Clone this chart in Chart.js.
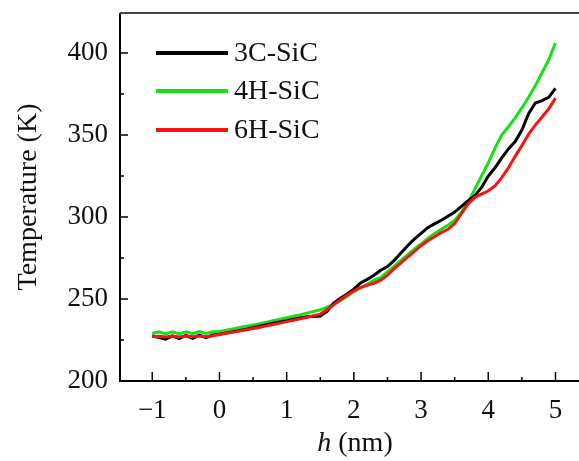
<!DOCTYPE html>
<html>
<head>
<meta charset="utf-8">
<script src="https://cdn.jsdelivr.net/npm/chart.js@4"></script>
<style>
  html, body { margin: 0; padding: 0; background: #fff; overflow: hidden; }
  #wrap { width: 579px; height: 461px; }
</style>
</head>
<body>
<div id="wrap"><canvas id="c"></canvas></div>
<script>
// h (nm), sampled every 0.1
const hValues = [-1.0,-0.9,-0.8,-0.7,-0.6,-0.5,-0.4,-0.3,-0.2,-0.1,
  0.0,0.1,0.2,0.3,0.4,0.5,0.6,0.7,0.8,0.9,
  1.0,1.1,1.2,1.3,1.4,1.5,1.6,1.7,1.8,1.9,
  2.0,2.1,2.2,2.3,2.4,2.5,2.6,2.7,2.8,2.9,
  3.0,3.1,3.2,3.3,3.4,3.5,3.6,3.7,3.8,3.9,
  4.0,4.1,4.2,4.3,4.4,4.5,4.6,4.7,4.8,4.9,5.0];

const temp3C = [227.5,226.5,225.5,227.5,225.8,227.8,226,228,226.5,228,
  228.5,229.3,230,230.8,231.6,232.5,233.4,234.3,235.2,236,
  236.8,237.6,238.4,239.2,239.4,239.6,242.5,247.5,250.5,253,
  256,259.8,262,264.5,267.5,269.8,273.5,278,282.5,286.5,
  290,293.5,295.8,298,300.5,303,306.5,310,313,318,
  325,330,336,341.5,346,353,363,369.5,371,373,378.5];

const temp4H = [229,230,228.7,230,228.7,230,228.8,230.2,229,230,
  230.2,231,231.8,232.6,233.4,234.2,235,235.9,236.8,237.7,
  238.6,239.5,240.4,241.4,242.4,243.4,245,246.8,249,251.5,
  254.5,257,259,261.5,263,266.5,270,273.5,277,280.5,
  283.5,287,290,292.5,295,298,303,309,317,325,
  333,342,350,355,360.5,366.5,373,380,388,396,406];

const temp6H = [227,227.3,226.8,227.4,226.8,227.4,227,227.5,227,227.6,
  228.4,229.1,229.8,230.5,231.2,232,232.8,233.6,234.5,235.3,
  236.2,237,237.9,238.8,239.8,240.8,243.5,246.5,249.5,252.5,
  255,257,258.5,259.5,261.5,264.5,268.5,272,275.5,279,
  282.5,285.5,288,290.5,292.5,296,302,308,312,314,
  316,319,324,330,337,343.5,350.5,356,361,366,372.5];

const xTicks = [-1, 0, 1, 2, 3, 4, 5];
const xMinor = [-0.5, 0.5, 1.5, 2.5, 3.5, 4.5];
const yTicks = [200, 250, 300, 350, 400];
const yMinor = [225, 275, 325, 375];

const serif = "'Liberation Serif', 'DejaVu Serif', serif";

function pts(ys) {
  return hValues.map((x, i) => ({ x: x, y: ys[i] }));
}

// inward ticks, spines and legend drawn on top of the plot
const frame = {
  id: 'frame',
  afterDatasetsDraw(chart) {
    const ctx = chart.ctx;
    const a = chart.chartArea;
    const xs = chart.scales.x, ys = chart.scales.y;
    ctx.save();
    ctx.strokeStyle = '#000';
    ctx.lineWidth = 2;
    ctx.beginPath();
    ctx.moveTo(a.left, a.top);
    ctx.lineTo(a.left, a.bottom);
    ctx.lineTo(a.right, a.bottom);
    ctx.stroke();
    ctx.strokeStyle = '#444';
    ctx.beginPath();
    ctx.moveTo(a.left, a.top);
    ctx.lineTo(a.right, a.top);
    ctx.stroke();

    ctx.strokeStyle = '#000';
    ctx.lineWidth = 1.5;
    ctx.beginPath();
    xTicks.forEach(v => { const p = xs.getPixelForValue(v); ctx.moveTo(p, a.bottom); ctx.lineTo(p, a.bottom - 9); });
    xMinor.forEach(v => { const p = xs.getPixelForValue(v); ctx.moveTo(p, a.bottom); ctx.lineTo(p, a.bottom - 4); });
    yTicks.forEach(v => { const p = ys.getPixelForValue(v); ctx.moveTo(a.left, p); ctx.lineTo(a.left + 8, p); });
    yMinor.forEach(v => { const p = ys.getPixelForValue(v); ctx.moveTo(a.left, p); ctx.lineTo(a.left + 4, p); });
    ctx.stroke();

    // legend
    const rows = [53, 91, 130];
    ctx.font = '28px ' + serif;
    ctx.textBaseline = 'middle';
    ctx.fillStyle = '#111';
    chart.data.datasets.forEach((ds, i) => {
      ctx.strokeStyle = ds.borderColor;
      ctx.lineWidth = 4;
      ctx.beginPath();
      ctx.moveTo(156, rows[i]);
      ctx.lineTo(228, rows[i]);
      ctx.stroke();
      ctx.fillText(ds.label, 234, rows[i] + 1);
    });

    // x title with italic h
    ctx.font = 'italic 28px ' + serif;
    const w1 = ctx.measureText('h').width;
    ctx.font = '28px ' + serif;
    const w2 = ctx.measureText(' (nm)').width;
    const cx = 355, start = cx - (w1 + w2) / 2;
    ctx.font = 'italic 28px ' + serif;
    ctx.fillText('h', start, 444);
    ctx.font = '28px ' + serif;
    ctx.fillText(' (nm)', start + w1, 444);
    ctx.restore();
  }
};

new Chart(document.getElementById('c'), {
  type: 'line',
  data: {
    datasets: [
      { label: '3C-SiC', data: pts(temp3C), borderColor: '#000000', order: 1 },
      { label: '4H-SiC', data: pts(temp4H), borderColor: '#16e016', order: 2 },
      { label: '6H-SiC', data: pts(temp6H), borderColor: '#ff1010', order: 0 }
    ]
  },
  options: {
    responsive: true,
    maintainAspectRatio: false,
    animation: false,
    events: [],
    layout: { padding: { top: 13, right: 0, left: 0, bottom: 0 } },
    elements: {
      point: { radius: 0 },
      line: { borderWidth: 3, tension: 0 }
    },
    plugins: { legend: { display: false }, tooltip: { enabled: false } },
    scales: {
      x: {
        type: 'linear',
        min: -1.48, max: 5.35,
        afterBuildTicks: s => { s.ticks = xTicks.map(v => ({ value: v })); },
        afterFit: s => { s.height = 80; s.paddingLeft = 0; s.paddingRight = 0; },
        grid: { display: false, drawTicks: false },
        border: { display: false },
        ticks: {
          color: '#111', padding: 14,
          font: { family: serif, size: 27 },
          callback: v => (v < 0 ? '\u2212' + Math.abs(v) : String(v))
        }
      },
      y: {
        min: 200, max: 424.4,
        afterBuildTicks: s => { s.ticks = yTicks.map(v => ({ value: v })); },
        afterFit: s => { s.width = 120; s.paddingTop = 0; s.paddingBottom = 0; },
        grid: { display: false, drawTicks: false },
        border: { display: false },
        title: {
          display: true, text: 'Temperature (K)', color: '#111',
          font: { family: serif, size: 28 }, padding: { top: 12, bottom: 0 }
        },
        ticks: {
          color: '#111', padding: 12,
          font: { family: serif, size: 27 }
        }
      }
    }
  },
  plugins: [frame]
});
</script>
</body>
</html>
